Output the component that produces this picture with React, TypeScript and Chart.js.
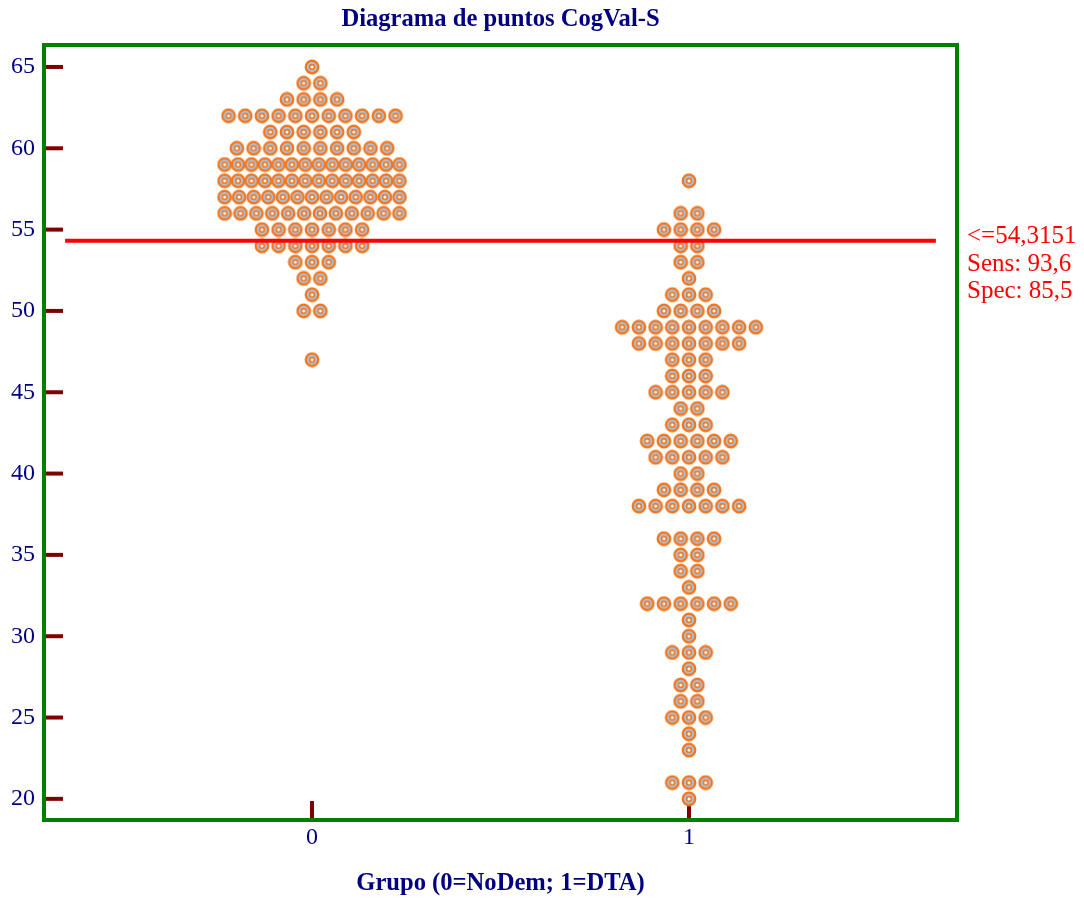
import { useEffect, useRef } from 'react';
import { Chart, registerables } from 'chart.js';

Chart.register(...registerables);

const TITLE = 'Diagrama de puntos CogVal-S';
const X_TITLE = 'Grupo (0=NoDem; 1=DTA)';
const groups = [0, 1];
const groupLabels = ['0', '1'];
const yTicks = [20, 25, 30, 35, 40, 45, 50, 55, 60, 65];

const group0Values = [65, 64, 63, 62, 61, 60, 59, 58, 57, 56, 55, 54, 53, 52, 51, 50, 47];
const group0Counts = [1, 2, 4, 11, 6, 10, 14, 14, 13, 12, 7, 7, 3, 2, 1, 2, 1];

const group1Values = [58, 56, 55, 54, 53, 52, 51, 50, 49, 48, 47, 46, 45, 44, 43, 42, 41, 40, 39, 38, 36, 35, 34, 33, 32, 31, 30, 29, 28, 27, 26, 25, 24, 23, 21, 20];
const group1Counts = [1, 2, 4, 2, 2, 1, 3, 4, 9, 7, 3, 3, 5, 2, 3, 6, 5, 2, 4, 7, 4, 2, 2, 1, 6, 1, 1, 3, 1, 2, 2, 3, 1, 1, 3, 1];

const cutoff = 54.3151;
const cutoffLabels = ['<=54,3151', 'Sens: 93,6', 'Spec: 85,5'];

const NAVY = '#000080';
const SERIF = "'Liberation Serif', 'Times New Roman', Times, serif";

function buildPoints(group: number, values: number[], counts: number[]) {
  const pts: { x: number; y: number }[] = [];
  values.forEach((v, k) => {
    const n = counts[k];
    const step = n > 1 ? Math.min(0.0443, 0.464 / (n - 1)) : 0;
    for (let i = 0; i < n; i++) {
      pts.push({ x: group + (i - (n - 1) / 2) * step, y: v });
    }
  });
  return pts;
}

function makeDot() {
  const c = document.createElement('canvas');
  c.width = 16;
  c.height = 16;
  const g = c.getContext('2d')!;
  g.beginPath();
  g.arc(8, 8, 6.2, 0, Math.PI * 2);
  g.fillStyle = '#9ccbf5';
  g.fill();
  g.lineWidth = 2.4;
  g.strokeStyle = '#f7761c';
  g.stroke();
  g.beginPath();
  g.arc(8, 8, 2.4, 0, Math.PI * 2);
  g.fillStyle = '#ffffff';
  g.fill();
  g.lineWidth = 1.7;
  g.strokeStyle = '#f7761c';
  g.stroke();
  return c;
}

export default function App() {
  const ref = useRef<HTMLCanvasElement | null>(null);

  useEffect(() => {
    if (!ref.current) return;
    const dot = makeDot();

    const overlay = {
      id: 'overlay',
      beforeDatasetsDraw(chart: any) {
        const { ctx, chartArea, scales } = chart;
        const { left, top, right, bottom } = chartArea;
        const x = scales.x;
        const y = scales.y;
        ctx.save();
        ctx.fillStyle = NAVY;
        ctx.font = `bold 24.6px ${SERIF}`;
        ctx.textAlign = 'center';
        ctx.textBaseline = 'middle';
        ctx.fillText(TITLE, (left + right) / 2, 20);
        ctx.strokeStyle = '#800000';
        ctx.lineWidth = 4;
        yTicks.forEach((v) => {
          const py = y.getPixelForValue(v);
          ctx.beginPath();
          ctx.moveTo(left, py);
          ctx.lineTo(left + 19, py);
          ctx.stroke();
        });
        groups.forEach((g) => {
          const px = x.getPixelForValue(g);
          ctx.beginPath();
          ctx.moveTo(px, bottom);
          ctx.lineTo(px, bottom - 19);
          ctx.stroke();
        });
        ctx.strokeStyle = '#008000';
        ctx.lineWidth = 4;
        ctx.strokeRect(left, top, right - left, bottom - top);
        ctx.restore();
      },
      afterDatasetsDraw(chart: any) {
        const { ctx, chartArea, scales } = chart;
        const x = scales.x;
        const y = scales.y;
        const py = y.getPixelForValue(cutoff);
        ctx.save();
        ctx.strokeStyle = '#ff0000';
        ctx.lineWidth = 4;
        ctx.beginPath();
        ctx.moveTo(x.getPixelForValue(-0.655), py);
        ctx.lineTo(x.getPixelForValue(1.655), py);
        ctx.stroke();
        ctx.fillStyle = '#ff0000';
        ctx.font = `25px ${SERIF}`;
        ctx.textAlign = 'left';
        ctx.textBaseline = 'alphabetic';
        cutoffLabels.forEach((t, i) => {
          ctx.fillText(t, chartArea.right + 10, py + 2.5 + i * 27.5);
        });
        ctx.restore();
      },
    };

    const chart = new Chart(ref.current, {
      type: 'scatter',
      data: {
        datasets: [
          {
            label: '0',
            data: buildPoints(groups[0], group0Values, group0Counts),
            pointStyle: dot as any,
          },
          {
            label: '1',
            data: buildPoints(groups[1], group1Values, group1Counts),
            pointStyle: dot as any,
          },
        ],
      },
      options: {
        animation: false,
        responsive: false,
        layout: { padding: { left: 0, right: 127, top: 45, bottom: 0 } },
        plugins: {
          legend: { display: false },
          tooltip: { enabled: false },
          title: { display: false },
        },
        scales: {
          x: {
            type: 'linear',
            min: -0.711,
            max: 1.711,
            afterBuildTicks: (s: any) => {
              s.ticks = groups.map((g) => ({ value: g }));
            },
            afterFit: (s: any) => {
              s.height = 79;
            },
            ticks: {
              autoSkip: false,
              maxRotation: 0,
              padding: 3,
              color: NAVY,
              font: { family: SERIF, size: 24 },
              callback: (v: any) => groupLabels[groups.indexOf(Number(v))] ?? '',
            },
            grid: { display: false, drawTicks: false },
            border: { display: false },
            title: {
              display: true,
              text: X_TITLE,
              color: NAVY,
              font: { family: SERIF, size: 24.6, weight: 'bold' },
              padding: { top: 0, bottom: 1 },
            },
          },
          y: {
            type: 'linear',
            min: 18.7,
            max: 66.35,
            afterBuildTicks: (s: any) => {
              s.ticks = yTicks.map((v) => ({ value: v }));
            },
            afterFit: (s: any) => {
              s.width = 44;
            },
            ticks: {
              padding: 9,
              color: NAVY,
              font: { family: SERIF, size: 24 },
              callback: (v: any) => String(v),
            },
            grid: { display: false, drawTicks: false },
            border: { display: false },
          },
        },
      },
      plugins: [overlay],
    });

    return () => chart.destroy();
  }, []);

  return (
    <div style={{ position: 'fixed', left: 0, top: 0, width: 1084, height: 899, background: '#fff' }}>
      <canvas ref={ref} width={1084} height={899} style={{ display: 'block' }} />
    </div>
  );
}
